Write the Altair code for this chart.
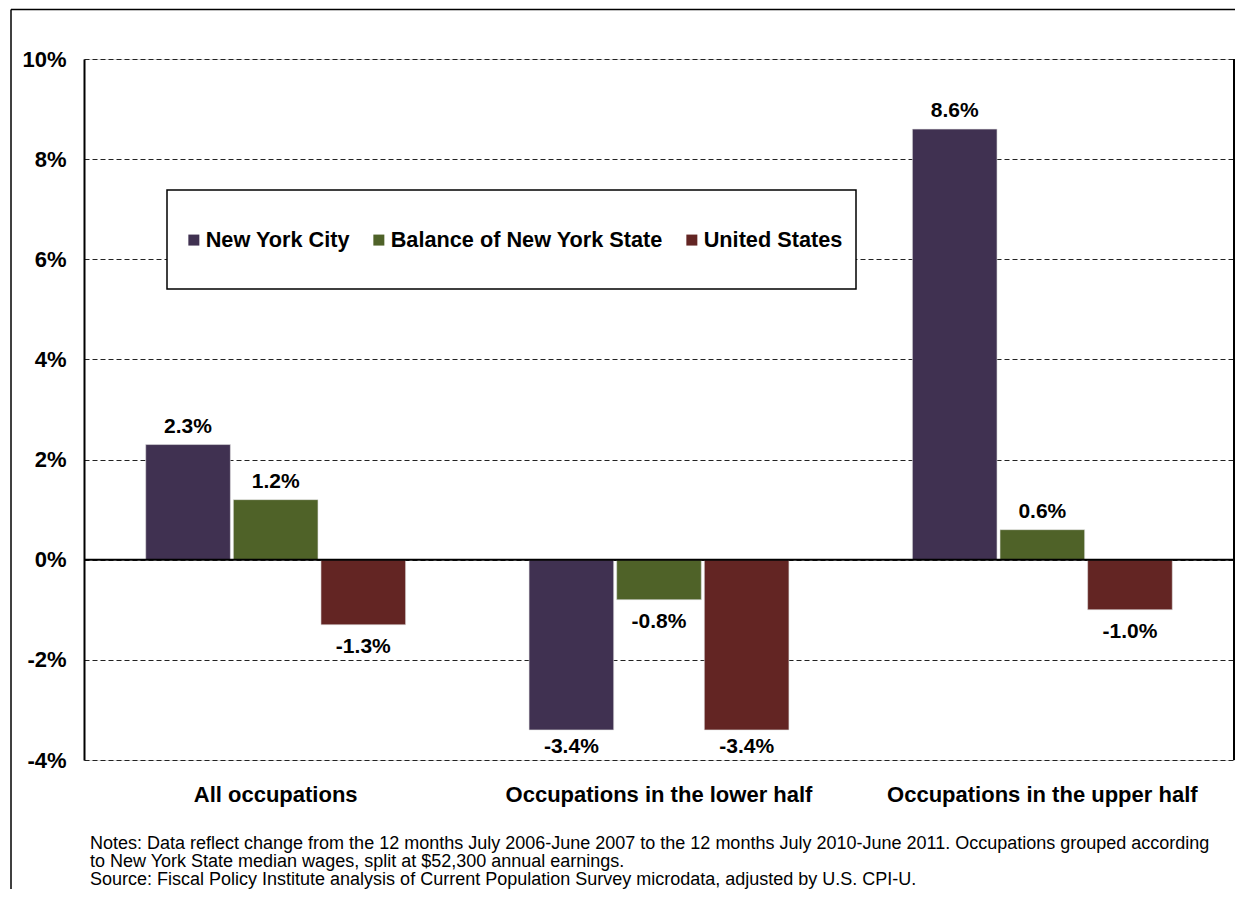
import altair as alt
import pandas as pd

categories = ["All occupations", "Occupations in the lower half", "Occupations in the upper half"]
series = ["New York City", "Balance of New York State", "United States"]
nyc_values = [2.3, -3.4, 8.6]
balance_values = [1.2, -0.8, 0.6]
us_values = [-1.3, -3.4, -1.0]
colors = ["#403151", "#4F6228", "#632523"]
y_ticks = [-4, -2, 0, 2, 4, 6, 8, 10]
notes = [
    "Notes: Data reflect change from the 12 months July 2006-June 2007 to the 12 months July 2010-June 2011. Occupations grouped according",
    "to New York State median wages, split at $52,300 annual earnings.",
    "Source: Fiscal Policy Institute analysis of Current Population Survey microdata, adjusted by U.S. CPI-U.",
]

rows = []
for i, c in enumerate(categories):
    for s, vals in zip(series, [nyc_values, balance_values, us_values]):
        rows.append({"category": c, "series": s, "value": vals[i], "label": f"{vals[i]:.1f}%"})
df = pd.DataFrame(rows)
one = pd.DataFrame({"k": [0]})

W, H = 1150, 701
FONT = "Liberation Sans"

x_axis = alt.Axis(title=None, labelAngle=0, labelFontSize=22, labelFontWeight="bold",
                  labelColor="black", labelFont=FONT, labelPadding=24, labelLimit=0, domain=False,
                  ticks=False, grid=False)
y_axis = alt.Axis(title=None, values=y_ticks, labelExpr="datum.value + '%'", labelFontSize=22,
                  labelFontWeight="bold", labelFont=FONT, labelColor="black", labelPadding=18,
                  labelLimit=0, ticks=False, domain=True, domainColor="black", domainWidth=2,
                  grid=True, gridColor="#222222", gridDash=[5, 3], gridWidth=1)
x_scale = alt.Scale(paddingInner=0.322, paddingOuter=0.161)
y_scale = alt.Scale(domain=[-4, 10], nice=False, zero=False)

x = alt.X("category:N", sort=categories, scale=x_scale, axis=x_axis)
xo = alt.XOffset("series:N", sort=series, scale=alt.Scale(paddingInner=0.034, paddingOuter=0))

color = alt.Color(
    "series:N", sort=series, scale=alt.Scale(domain=series, range=colors),
    legend=alt.Legend(title=None, orient="none", legendX=99, legendY=170, direction="horizontal",
                      symbolType="square", symbolSize=121, symbolStrokeWidth=0, symbolOpacity=1,
                      labelFontSize=21.7, labelFontWeight="bold", labelFont=FONT, labelColor="black",
                      labelOffset=1, labelLimit=0, columnPadding=18, padding=0),
)

base = alt.Chart(df)

bars = base.mark_bar(stroke="#e0e0e0", strokeWidth=0.6).encode(
    x=x, xOffset=xo, y=alt.Y("value:Q", scale=y_scale, axis=y_axis), color=color
)

zero = alt.Chart(one).mark_rule(color="black", strokeWidth=2).encode(y=alt.datum(0))

right_border = alt.Chart(one).mark_rule(color="black", strokeWidth=2).encode(
    x=alt.value(W), y=alt.value(0), y2=alt.value(H)
)
frame_left = alt.Chart(one).mark_rule(color="black", strokeWidth=1.5).encode(
    x=alt.value(-73), y=alt.value(-49.5), y2=alt.value(H + 200)
)
frame_top = alt.Chart(one).mark_rule(color="black", strokeWidth=1.5).encode(
    x=alt.value(-73), x2=alt.value(W + 20), y=alt.value(-49.5)
)
legend_box = alt.Chart(one).mark_rect(fill="white", stroke="black", strokeWidth=1.5).encode(
    x=alt.value(83), x2=alt.value(772), y=alt.value(131), y2=alt.value(230)
)

text_style = dict(fontSize=21, fontWeight="bold", font=FONT, color="black", baseline="alphabetic")
pos_labels = base.transform_filter("datum.value >= 0").mark_text(dy=-12, **text_style).encode(
    x=x, xOffset=xo, y=alt.Y("value:Q", scale=y_scale, axis=y_axis), text="label:N"
)
# labels below negative bars stay inside the plot area (as in the original chart)
neg_labels = (
    base.transform_filter("datum.value < 0")
    .transform_calculate(ly="max(datum.value, -3.3)")
    .mark_text(dy=28, **text_style)
    .encode(x=x, xOffset=xo, y=alt.Y("ly:Q", scale=y_scale, axis=y_axis), text="label:N")
)

notes_text = alt.Chart(one).mark_text(
    align="left", baseline="top", fontSize=18, font=FONT, color="black", lineHeight=18.2
).encode(x=alt.value(6), y=alt.value(776), text=alt.value(notes))

chart = (
    alt.layer(frame_left, frame_top, bars, zero, right_border, legend_box, pos_labels, neg_labels, notes_text)
    .properties(
        width=W, height=H,
        autosize=alt.AutoSizeParams(type="none"),
        padding={"left": 76, "top": 51, "right": 1, "bottom": 129},
    )
    .configure_view(strokeWidth=0)
    .configure(background="white")
)

chart.save("out.html", embed_options={"renderer": "svg", "actions": False})
